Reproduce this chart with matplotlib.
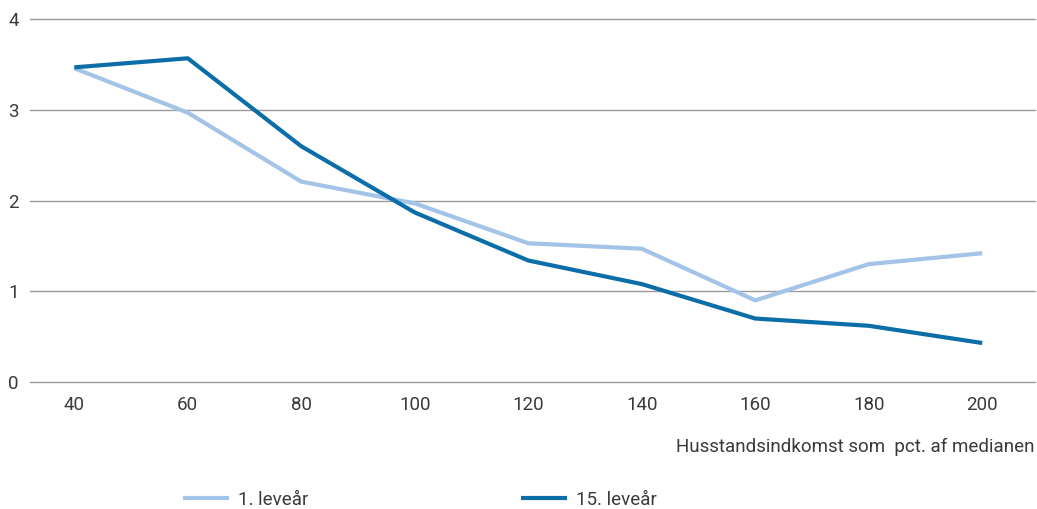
import matplotlib
matplotlib.use("Agg")
import matplotlib.pyplot as plt

x_vals = [40, 60, 80, 100, 120, 140, 160, 180, 200]
series_1 = [3.46, 2.97, 2.21, 1.97, 1.53, 1.47, 0.90, 1.30, 1.42]
series_15 = [3.47, 3.57, 2.60, 1.87, 1.34, 1.08, 0.70, 0.62, 0.43]
labels = ["1. leveår", "15. leveår"]
y_ticks = [0, 1, 2, 3, 4]
xlabel = "Husstandsindkomst som  pct. af medianen"

plt.rcParams['font.family'] = ['Roboto', 'DejaVu Sans']

fig = plt.figure(figsize=(10.37, 5.09), dpi=100)
ax = fig.add_axes([30/1037, 1-382/509, 1005/1037, (382-19.3)/509])

c_light = '#a3c3e7'
c_dark = '#0b6ea8'
txt = '#3a3a3a'
l1, = ax.plot(x_vals, series_1, color=c_light, lw=3.0, label=labels[0], solid_capstyle='butt')
l2, = ax.plot(x_vals, series_15, color=c_dark, lw=3.0, label=labels[1], solid_capstyle='butt')

ax.set_xlim(32.2, 209.3)
ax.set_ylim(0, 4)
ax.set_xticks(x_vals)
ax.set_yticks(y_ticks)
ax.grid(axis='y', color='#9a9a9a', lw=1.0)
for g in ax.yaxis.get_gridlines():
    g.set_clip_on(False)
ax.set_axisbelow(True)
for s in ax.spines.values():
    s.set_visible(False)
ax.tick_params(axis='both', length=0, labelsize=13.5, colors=txt)
ax.tick_params(axis='y', pad=8)
ax.tick_params(axis='x', pad=10)

fig.text(1035/1037, 1-447/509, xlabel, ha='right', va='center', fontsize=13.5, color=txt)

fig.legend(handles=[l1, l2], loc='center left', bbox_to_anchor=(183/1037, 1-500/509),
           ncol=2, frameon=False, fontsize=13.5, handlelength=2.45, handletextpad=0.5,
           columnspacing=11.3, labelcolor=txt, borderpad=0, borderaxespad=0)

fig.savefig("out.png", dpi=100)
